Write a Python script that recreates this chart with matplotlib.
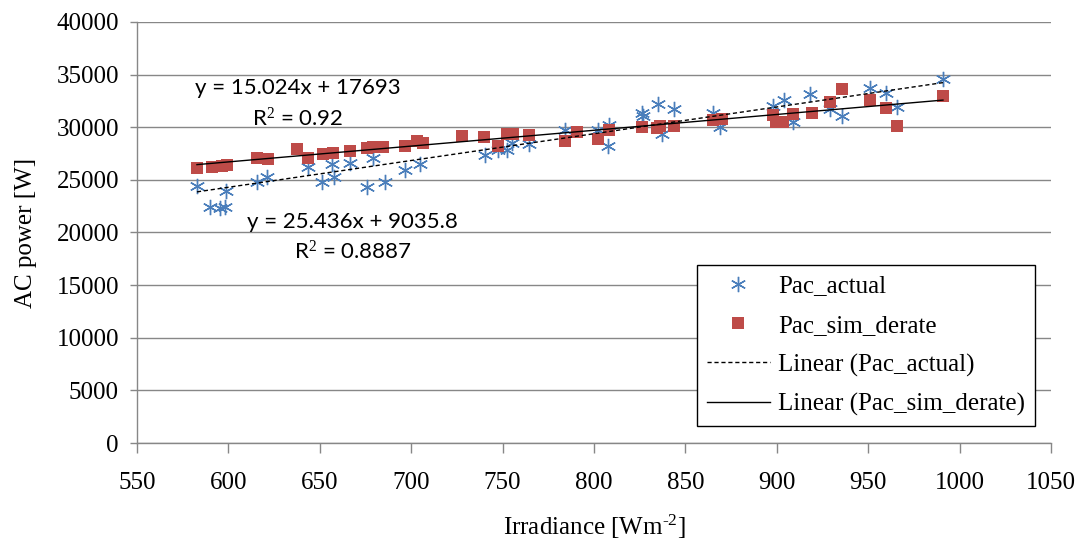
import matplotlib
matplotlib.use("Agg")
import matplotlib.pyplot as plt
import numpy as np

plt.rcParams["font.family"] = ["Liberation Serif", "DejaVu Serif"]
plt.rcParams["mathtext.fontset"] = "custom"
plt.rcParams["mathtext.rm"] = "Liberation Serif"
plt.rcParams["mathtext.it"] = "Liberation Serif:italic"

# Pac_actual (blue asterisks)
irr_actual = [582.8, 590, 595.4, 598, 598.7, 615.6, 621, 643.5, 651, 656.7,
              658, 666.5, 675.8, 679, 685.7, 696.6, 705, 740.4, 747.5, 752.4,
              755, 764.4, 784, 802, 808, 807.7, 826, 826.8, 835, 837,
              843.8, 865, 869, 898, 904, 909, 918, 929, 935.7, 951,
              960, 965.8, 990.9]
pac_actual = [24420, 22420, 22330, 22420, 23940, 24800, 25270, 26220, 24800, 26510,
              25270, 26600, 24320, 27080, 24800, 25940, 26500, 27360, 27840, 27840,
              28500, 28400, 29740, 29740, 30210, 28220, 31350, 31070, 32210, 29360,
              31730, 31350, 30020, 32020, 32590, 30500, 33160, 31730, 31070, 33730,
              33250, 31920, 34580]

# Pac_sim_derate (red squares)
irr_sim = [582.8, 591, 596.5, 599, 615.6, 621.7, 637.5, 643.5, 651.7, 657,
           666.5, 675.8, 679, 684.6, 696.6, 703.2, 706.5, 728, 740, 747.5,
           752.4, 755.7, 764.4, 784, 790.7, 802, 808, 826, 834.5, 836,
           843.8, 865, 870, 898, 899.6, 903.4, 909, 919, 929, 935.7,
           951, 960, 965.8, 990.9]
pac_sim = [26130, 26220, 26300, 26400, 27080, 27000, 27930, 27080, 27460, 27550,
           27740, 28030, 28120, 28120, 28220, 28690, 28500, 29170, 29070, 28220,
           29360, 29360, 29260, 28690, 29550, 28880, 29740, 30020, 29930, 30120,
           30120, 30690, 30780, 31160, 30500, 30500, 31260, 31350, 32400, 33630,
           32590, 31830, 30120, 32970]

# trendline coefficients as printed on the chart
fit_actual = (25.436, 9035.8)
fit_sim = (15.024, 17693)

blue = "#4A7EBB"
red = "#BE4B48"
grid_grey = "#878787"
fs = 18

fig = plt.figure(figsize=(10.86, 5.42), dpi=100)
ax = fig.add_axes([137 / 1086, 1 - 443 / 542, (1051 - 137) / 1086, (443 - 22) / 542])

ax.plot(irr_actual, pac_actual, linestyle="None", marker=(6, 2, 0), markersize=11,
        markeredgewidth=1.0, color=blue, label="Pac_actual", zorder=3)
ax.plot(irr_sim, pac_sim, linestyle="None", marker="s", markersize=8.5,
        color=red, markeredgewidth=0, label="Pac_sim_derate", zorder=3)

xa = np.array([min(irr_actual), max(irr_actual)])
ax.plot(xa, fit_actual[0] * xa + fit_actual[1], color="black", linestyle=(0, (3, 2)),
        linewidth=1.0, label="Linear (Pac_actual)", zorder=4)
xs = np.array([min(irr_sim), max(irr_sim)])
ax.plot(xs, fit_sim[0] * xs + fit_sim[1], color="black", linestyle="-",
        linewidth=1.0, label="Linear (Pac_sim_derate)", zorder=4)

ax.set_xlim(550, 1050)
ax.set_ylim(0, 40000)
ax.set_xticks(np.arange(550, 1051, 50))
ax.set_yticks(np.arange(0, 40001, 5000))
ax.yaxis.grid(True, color=grid_grey, linewidth=1.0)
ax.set_axisbelow(True)
for side in ("top", "right"):
    ax.spines[side].set_visible(False)
for side in ("left", "bottom"):
    ax.spines[side].set_color(grid_grey)
    ax.spines[side].set_linewidth(1.0)
ax.tick_params(axis="x", direction="out", length=7, width=1, color=grid_grey,
               pad=14, labelsize=fs)
ax.tick_params(axis="y", direction="out", length=5, width=1, color=grid_grey,
               pad=8, labelsize=fs)

ax.set_xlabel(r"Irradiance [Wm$^{\text{-}2}$]", fontsize=fs, labelpad=13)
ax.set_ylabel("AC power [W]", fontsize=fs, labelpad=14)

eq_font = dict(family=["Lato", "DejaVu Sans"], fontsize=16, ha="center", va="center")
ax.text(638, 33730, "y = 15.024x + 17693", **eq_font)
ax.text(638, 30880, "R$^{2}$ = 0.92", **eq_font)
ax.text(668, 21000, "y = 25.436x + 9035.8", **eq_font)
ax.text(668, 18240, "R$^{2}$ = 0.8887", **eq_font)

leg = ax.legend(loc="upper left", bbox_to_anchor=(697 / 1086, 1 - 265 / 542),
                bbox_transform=fig.transFigure, borderaxespad=0, fontsize=fs,
                frameon=True, fancybox=False, edgecolor="black", framealpha=1,
                handlelength=2.5, handletextpad=0.35, labelspacing=0.67,
                borderpad=0.4, numpoints=1)
leg.get_frame().set_linewidth(1.0)

fig.savefig("out.png", dpi=100)
